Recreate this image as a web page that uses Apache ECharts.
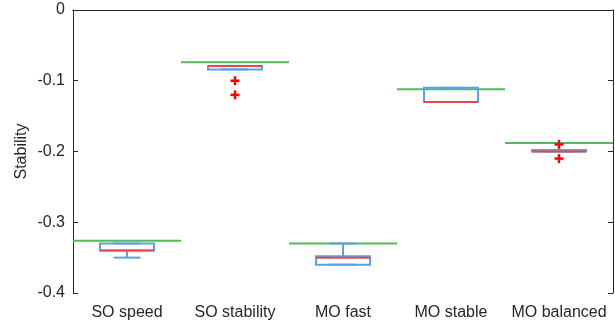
<!DOCTYPE html>
<html>
<head>
<meta charset="utf-8">
<script src="https://cdn.jsdelivr.net/npm/echarts@6/dist/echarts.min.js"></script>
<style>html,body{margin:0;padding:0;background:#fff}#c{width:615px;height:324px}</style>
</head>
<body>
<div id="c"></div>
<script>
var categories = ['SO speed', 'SO stability', 'MO fast', 'MO stable', 'MO balanced'];
var whiskerLow  = [-0.350, -0.084, -0.360, -0.130, -0.200];
var q1          = [-0.340, -0.084, -0.360, -0.130, -0.200];
var medians     = [-0.340, -0.079, -0.350, -0.130, -0.200];
var q3          = [-0.330, -0.079, -0.348, -0.110, -0.198];
var whiskerHigh = [-0.330, -0.079, -0.330, -0.110, -0.198];
var reference   = [-0.326, -0.074, -0.330, -0.112, -0.188];
var outlierCat  = [1, 1, 4, 4];
var outlierVal  = [-0.10, -0.12, -0.19, -0.21];
var yTicks = [0, -0.1, -0.2, -0.3, -0.4];

var BLUE = '#5aa3dc', RED = '#e8474c', GREEN = '#5ab75c', AX = '#262626';
var FONT = 'Liberation Sans, Arial, sans-serif';

var boxData = categories.map(function (c, i) {
  return [i, whiskerLow[i], q1[i], medians[i], q3[i], whiskerHigh[i]];
});
var refData = categories.map(function (c, i) { return [i, reference[i]]; });
var outData = outlierCat.map(function (c, i) { return [c, outlierVal[i]]; });

function line(x1, y1, x2, y2, color, w) {
  return { type: 'line', shape: { x1: x1, y1: y1, x2: x2, y2: y2 },
    style: { stroke: color, lineWidth: w, fill: null } };
}

var chart = echarts.init(document.getElementById('c'), null, { renderer: 'canvas' });
chart.setOption({
  animation: false,
  backgroundColor: '#fff',
  grid: { left: 73, right: 2, top: 10, bottom: 31, show: false },
  xAxis: [{
    type: 'category', data: categories, boundaryGap: true, position: 'bottom',
    axisLine: { lineStyle: { color: AX, width: 1 } },
    axisTick: { inside: true, alignWithLabel: true, length: 5, interval: 0, lineStyle: { color: AX } },
    axisLabel: { color: AX, fontSize: 16, fontFamily: FONT, margin: 12, interval: 0 },
    splitLine: { show: false }
  }, {
    type: 'category', data: categories, boundaryGap: true, position: 'top',
    axisLine: { lineStyle: { color: AX, width: 1 } },
    axisTick: { inside: true, alignWithLabel: true, length: 5, interval: 0, lineStyle: { color: AX } },
    axisLabel: { show: false }, splitLine: { show: false }
  }],
  yAxis: [{
    type: 'value', min: -0.4, max: 0, interval: 0.1, position: 'left',
    name: 'Stability', nameLocation: 'middle', nameGap: 43, nameMoveOverlap: false,
    nameTextStyle: { color: AX, fontSize: 16, fontFamily: FONT },
    axisLine: { show: true, lineStyle: { color: AX, width: 1 } },
    axisTick: { show: true, inside: true, length: 5, lineStyle: { color: AX } },
    axisLabel: { color: AX, fontSize: 16, fontFamily: FONT, margin: 8,
      formatter: function (v) { var r = Math.round(v * 10) / 10; return r === 0 ? '0' : r.toFixed(1); } },
    splitLine: { show: false }
  }, {
    type: 'value', min: -0.4, max: 0, interval: 0.1, position: 'right',
    axisLine: { show: true, lineStyle: { color: AX, width: 1 } },
    axisTick: { show: true, inside: true, length: 5, lineStyle: { color: AX } },
    axisLabel: { show: false }, splitLine: { show: false }
  }],
  series: [{
    type: 'custom', name: 'reference', data: refData, z: 2,
    renderItem: function (params, api) {
      var p = api.coord([api.value(0), api.value(1)]);
      var band = api.size([1, 0])[0];
      return line(p[0] - band / 2, p[1], p[0] + band / 2, p[1], GREEN, 2);
    }
  }, {
    type: 'custom', name: 'box', data: boxData, z: 3,
    renderItem: function (params, api) {
      var i = api.value(0);
      var band = api.size([1, 0])[0];
      var bw = band * 0.5, cw = band * 0.25;
      var x = api.coord([i, 0])[0];
      var yLo = api.coord([i, api.value(1)])[1];
      var yQ1 = api.coord([i, api.value(2)])[1];
      var yMed = api.coord([i, api.value(3)])[1];
      var yQ3 = api.coord([i, api.value(4)])[1];
      var yHi = api.coord([i, api.value(5)])[1];
      return { type: 'group', children: [
        line(x, yQ1, x, yLo, BLUE, 2),
        line(x, yQ3, x, yHi, BLUE, 2),
        line(x - cw / 2, yLo, x + cw / 2, yLo, BLUE, 2),
        line(x - cw / 2, yHi, x + cw / 2, yHi, BLUE, 2),
        { type: 'rect', shape: { x: x - bw / 2, y: yQ3, width: bw, height: yQ1 - yQ3 },
          style: { stroke: BLUE, lineWidth: 2, fill: null } },
        line(x - bw / 2, yMed, x + bw / 2, yMed, RED, 2)
      ] };
    }
  }, {
    type: 'custom', name: 'outliers', data: outData, z: 4,
    renderItem: function (params, api) {
      var p = api.coord([api.value(0), api.value(1)]);
      var h = 4.5;
      return { type: 'group', children: [
        line(p[0] - h, p[1], p[0] + h, p[1], '#ff0000', 2.5),
        line(p[0], p[1] - h, p[0], p[1] + h, '#ff0000', 2.5)
      ] };
    }
  }]
});
</script>
</body>
</html>
